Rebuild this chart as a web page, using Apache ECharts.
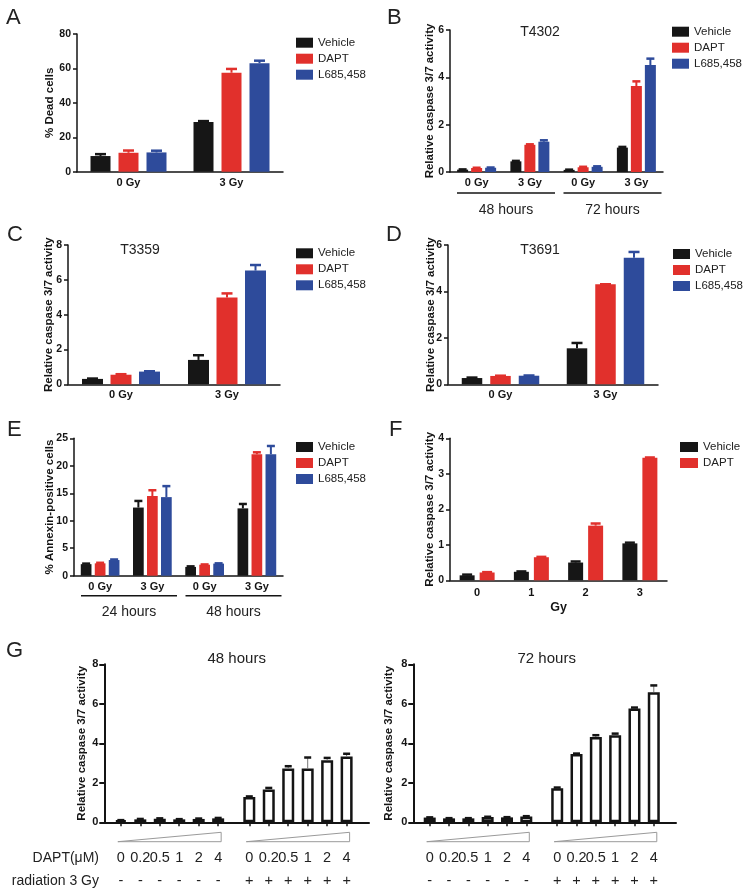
<!DOCTYPE html>
<html><head><meta charset="utf-8">
<script src="https://cdn.jsdelivr.net/npm/echarts@6/dist/echarts.min.js"></script>
<style>html,body{margin:0;padding:0;background:#fff}#c{width:754px;height:895px}</style>
</head><body><div id="c"></div>
<script>
const FONT = '"Liberation Sans", Arial, Helvetica, sans-serif';
const INK = '#141414';
const seriesColors = {'Vehicle': '#161616', 'DAPT': '#E1302C', 'L685,458': '#2E4B9B'};

// ---------- Panel A
const aCategories = ['0 Gy', '3 Gy'];
const aYTicks = [0, 20, 40, 60, 80];
const aVehicle = [9.1, 28.9];
const aVehicleErr = [1.1, 0.5];
const aDAPT = [11.0, 57.5];
const aDAPTErr = [1.3, 2.2];
const aL685 = [11.2, 63.0];
const aL685Err = [1.0, 1.5];

// ---------- Panel B (T4302)
const bCategories = ['0 Gy', '3 Gy', '0 Gy', '3 Gy'];
const bGroupLabels = ['48 hours', '72 hours'];
const bYTicks = [0, 2, 4, 6];
const bVehicle = [0.10, 0.45, 0.09, 1.03];
const bVehicleErr = [0.01, 0.02, 0.01, 0.03];
const bDAPT = [0.17, 1.15, 0.20, 3.63];
const bDAPTErr = [0.01, 0.02, 0.02, 0.20];
const bL685 = [0.18, 1.28, 0.22, 4.52];
const bL685Err = [0.01, 0.06, 0.02, 0.27];

// ---------- Panel C (T3359)
const cCategories = ['0 Gy', '3 Gy'];
const cYTicks = [0, 2, 4, 6, 8];
const cVehicle = [0.31, 1.40];
const cVehicleErr = [0.02, 0.27];
const cDAPT = [0.55, 4.98];
const cDAPTErr = [0.03, 0.24];
const cL685 = [0.73, 6.53];
const cL685Err = [0.02, 0.32];

// ---------- Panel D (T3691)
const dCategories = ['0 Gy', '3 Gy'];
const dYTicks = [0, 2, 4, 6];
const dVehicle = [0.27, 1.55];
const dVehicleErr = [0.02, 0.23];
const dDAPT = [0.36, 4.31];
const dDAPTErr = [0.01, 0.0];
const dL685 = [0.37, 5.45];
const dL685Err = [0.01, 0.25];

// ---------- Panel E
const eCategories = ['0 Gy', '3 Gy', '0 Gy', '3 Gy'];
const eGroupLabels = ['24 hours', '48 hours'];
const eYTicks = [0, 5, 10, 15, 20, 25];
const eVehicle = [2.1, 12.4, 1.6, 12.25];
const eVehicleErr = [0.1, 1.2, 0.1, 0.8];
const eDAPT = [2.25, 14.5, 2.0, 22.1];
const eDAPTErr = [0.1, 1.05, 0.05, 0.35];
const eL685 = [2.85, 14.3, 2.2, 22.1];
const eL685Err = [0.1, 2.0, 0.05, 1.5];

// ---------- Panel F
const fCategories = ['0', '1', '2', '3'];
const fYTicks = [0, 1, 2, 3, 4];
const fVehicle = [0.14, 0.24, 0.50, 1.04];
const fVehicleErr = [0.02, 0.01, 0.03, 0.02];
const fDAPT = [0.22, 0.65, 1.54, 3.45];
const fDAPTErr = [0.01, 0.01, 0.06, 0.01];

// ---------- Panel G
const gDoses = ['0', '0.2', '0.5', '1', '2', '4'];
const gRadiationSigns = ['-', '+'];
const gYTicks = [0, 2, 4, 6, 8];
const g48NoRad = [0.10, 0.15, 0.18, 0.15, 0.17, 0.20];
const g48NoRadErr = [0.01, 0.02, 0.02, 0.01, 0.02, 0.02];
const g48Rad = [1.28, 1.66, 2.72, 2.72, 3.14, 3.33];
const g48RadErr = [0.03, 0.08, 0.12, 0.56, 0.12, 0.14];
const g72NoRad = [0.24, 0.20, 0.20, 0.27, 0.25, 0.30];
const g72NoRadErr = [0.01, 0.01, 0.01, 0.01, 0.01, 0.01];
const g72Rad = [1.73, 3.46, 4.32, 4.41, 5.76, 6.59];
const g72RadErr = [0.03, 0.02, 0.09, 0.08, 0.05, 0.34];

// ---------- helpers
function errorBars(axisIdx, data, offset, stemColor, stemWidth, capWidth, capLineWidth, capColor) {
  return {
    type: 'custom', xAxisIndex: axisIdx, yAxisIndex: axisIdx, silent: true, animation: false, z: 3,
    data: data, encode: {x: 0, y: [1, 2]},
    renderItem: function (params, api) {
      const base = api.coord([api.value(0), api.value(1)]);
      const top = api.coord([api.value(0), api.value(2)]);
      const cx = base[0] + offset;
      return {type: 'group', children: [
        {type: 'line', shape: {x1: cx, y1: base[1], x2: cx, y2: top[1]}, style: {stroke: stemColor, lineWidth: stemWidth}},
        {type: 'line', shape: {x1: cx - capWidth / 2, y1: top[1], x2: cx + capWidth / 2, y2: top[1]}, style: {stroke: capColor, lineWidth: capLineWidth}}
      ]};
    }
  };
}

const panelDefs = [
  {cats: aCategories, yTicks: aYTicks, yName: '% Dead cells',
   series: [['Vehicle', aVehicle, aVehicleErr], ['DAPT', aDAPT, aDAPTErr], ['L685,458', aL685, aL685Err]],
   grid: {left: 77, top: 34, width: 206, height: 137.7}, nameGap: 21, bw: 20, gap: 8, cap: 11,
   legend: {left: 296, top: 35.7, itemWidth: 17}},
  {cats: bCategories, yTicks: bYTicks, yName: 'Relative caspase 3/7 activity',
   series: [['Vehicle', bVehicle, bVehicleErr], ['DAPT', bDAPT, bDAPTErr], ['L685,458', bL685, bL685Err]],
   grid: {left: 450, top: 30, width: 213, height: 142}, nameGap: 14, bw: 11, gap: 3, cap: 8,
   legend: {left: 672, top: 24.7, itemWidth: 17}, groups: bGroupLabels, lineOff: 21, textOff: 17},
  {cats: cCategories, yTicks: cYTicks, yName: 'Relative caspase 3/7 activity',
   series: [['Vehicle', cVehicle, cVehicleErr], ['DAPT', cDAPT, cDAPTErr], ['L685,458', cL685, cL685Err]],
   grid: {left: 68, top: 245, width: 212, height: 139.3}, nameGap: 13, bw: 21, gap: 7.5, cap: 11,
   legend: {left: 296, top: 246.3, itemWidth: 17}},
  {cats: dCategories, yTicks: dYTicks, yName: 'Relative caspase 3/7 activity',
   series: [['Vehicle', dVehicle, dVehicleErr], ['DAPT', dDAPT, dDAPTErr], ['L685,458', dL685, dL685Err]],
   grid: {left: 448, top: 245, width: 210, height: 139.3}, nameGap: 11, bw: 20.5, gap: 8, cap: 11,
   legend: {left: 673, top: 247, itemWidth: 17}},
  {cats: eCategories, yTicks: eYTicks, yName: '% Annexin-positive cells',
   series: [['Vehicle', eVehicle, eVehicleErr], ['DAPT', eDAPT, eDAPTErr], ['L685,458', eL685, eL685Err]],
   grid: {left: 74, top: 438.3, width: 209, height: 137.4}, nameGap: 18, bw: 10.7, gap: 3.3, cap: 8,
   legend: {left: 296, top: 440, itemWidth: 17}, groups: eGroupLabels, lineOff: 20, textOff: 16},
  {cats: fCategories, yTicks: fYTicks, yName: 'Relative caspase 3/7 activity', xName: 'Gy',
   series: [['Vehicle', fVehicle, fVehicleErr], ['DAPT', fDAPT, fDAPTErr]],
   grid: {left: 450, top: 438.3, width: 217, height: 142}, nameGap: 14, bw: 15, gap: 5, cap: 10,
   legend: {left: 680, top: 440, itemWidth: 18}, xMargin: 7}
];

const grids = [], xAxes = [], yAxes = [], series = [], legends = [];

function yAxisFor(k, ticks, name, nameGap, lw, fs) {
  return {
    gridIndex: k, type: 'value', min: ticks[0], max: ticks[ticks.length - 1], interval: ticks[1] - ticks[0],
    axisLine: {show: true, lineStyle: {color: INK, width: lw}},
    axisTick: {show: true, inside: false, length: 4, lineStyle: {color: INK, width: lw}},
    splitLine: {show: false},
    axisLabel: {color: INK, fontWeight: 'bold', fontSize: fs, fontFamily: FONT, margin: 6},
    name: name, nameLocation: 'middle', nameRotate: 90, nameGap: nameGap, nameMoveOverlap: false,
    nameTextStyle: {color: INK, fontWeight: 'bold', fontSize: 11.5, fontFamily: FONT}
  };
}

panelDefs.forEach(function (p, k) {
  grids.push(Object.assign({outerBoundsMode: 'none'}, p.grid));
  xAxes.push({
    gridIndex: k, type: 'category', data: p.cats,
    axisLine: {show: true, lineStyle: {color: INK, width: 1.5}}, axisTick: {show: false},
    axisLabel: {color: INK, fontWeight: 'bold', fontSize: 11, fontFamily: FONT, margin: p.xMargin || 5.5, interval: 0},
    splitLine: {show: false},
    name: p.xName || '', nameLocation: 'middle', nameGap: 21, nameMoveOverlap: false,
    nameTextStyle: {color: INK, fontWeight: 'bold', fontSize: 12.5, fontFamily: FONT}
  });
  yAxes.push(yAxisFor(k, p.yTicks, p.yName, p.nameGap, 1.5, 10.5));
  const n = p.series.length;
  p.series.forEach(function (s, i) {
    const name = s[0], vals = s[1], errs = s[2];
    const color = seriesColors[name];
    series.push({type: 'bar', name: name, xAxisIndex: k, yAxisIndex: k, data: vals, barWidth: p.bw,
      barGap: (p.gap / p.bw * 100) + '%', itemStyle: {color: color}, silent: true, animation: false});
    const off = (i - (n - 1) / 2) * (p.bw + p.gap);
    series.push(errorBars(k, vals.map(function (v, j) { return [j, v, v + errs[j]]; }), off, color, 2, p.cap, 2.5, color));
  });
  legends.push({
    orient: 'vertical', left: p.legend.left, top: p.legend.top, padding: 0, itemGap: 2,
    itemWidth: p.legend.itemWidth, itemHeight: 10, icon: 'rect', selectedMode: false,
    data: p.series.map(function (s) { return s[0]; }),
    textStyle: {fontSize: 11.5, lineHeight: 14, color: '#222', fontFamily: FONT}
  });
  if (p.groups) {
    const labels = p.groups;
    series.push({
      type: 'custom', xAxisIndex: k, yAxisIndex: k, silent: true, animation: false,
      data: labels.map(function (l, g) { return [g * 2, g * 2 + 1, 0]; }), encode: {x: [0, 1], y: 2},
      renderItem: function (params, api) {
        const p0 = api.coord([api.value(0), 0]), p1 = api.coord([api.value(1), 0]);
        const band = api.size([1, 0])[0];
        const y = p0[1] + p.lineOff;
        const x0 = p0[0] - band / 2 + 7, x1 = p1[0] + band / 2 - 1.5;
        return {type: 'group', children: [
          {type: 'line', shape: {x1: x0, y1: y, x2: x1, y2: y}, style: {stroke: INK, lineWidth: 1.5}},
          {type: 'text', style: {text: labels[params.dataIndex], x: (x0 + x1) / 2, y: y + p.textOff,
            align: 'center', verticalAlign: 'middle', textAlign: 'center', textVerticalAlign: 'middle',
            font: '14px ' + FONT, fill: '#222'}}
        ]};
      }
    });
  }
});

// ---------- Panel G (two grids, value x-axis with a gap between dose groups)
const gGroupGap = 0.6;
const gPositions = gDoses.map(function (d, i) { return i + 1; })
  .concat(gDoses.map(function (d, i) { return i + 1 + gDoses.length + gGroupGap; }));
const gLabelFor = function (v) {
  const i = gPositions.findIndex(function (p) { return Math.abs(p - v) < 1e-6; });
  if (i < 0) return '';
  return gDoses[i % gDoses.length] + '\n' + gRadiationSigns[Math.floor(i / gDoses.length)];
};
const gDefs = [
  {grid: {left: 104.3, top: 664.3, width: 264.7, height: 158}, noRad: g48NoRad, noRadErr: g48NoRadErr, rad: g48Rad, radErr: g48RadErr, nameGap: 16},
  {grid: {left: 413.3, top: 664.3, width: 262.7, height: 158}, noRad: g72NoRad, noRadErr: g72NoRadErr, rad: g72Rad, radErr: g72RadErr, nameGap: 18}
];
gDefs.forEach(function (g, gi) {
  const k = panelDefs.length + gi;
  grids.push(Object.assign({outerBoundsMode: 'none'}, g.grid));
  xAxes.push({
    gridIndex: k, type: 'value', min: 0.15, max: 13.75,
    axisLine: {show: true, onZero: false, lineStyle: {color: INK, width: 2}},
    axisTick: {show: true, customValues: gPositions, length: 4, lineStyle: {color: INK, width: 1.5}},
    axisLabel: {show: true, customValues: gPositions, formatter: gLabelFor, color: '#222', fontSize: 14.5,
      lineHeight: 23.3, fontFamily: FONT, margin: 23.7, hideOverlap: false},
    splitLine: {show: false}
  });
  const ya = yAxisFor(k, gYTicks, 'Relative caspase 3/7 activity', g.nameGap, 2, 11);
  ya.axisTick.length = 5;
  yAxes.push(ya);
  const vals = g.noRad.concat(g.rad), errs = g.noRadErr.concat(g.radErr);
  series.push({type: 'bar', name: 'G' + gi, xAxisIndex: k, yAxisIndex: k, barWidth: 12, silent: true, animation: false,
    data: vals.map(function (v, i) { return [gPositions[i], v]; }),
    itemStyle: {color: '#ffffff', borderColor: INK, borderWidth: 2.5}});
  series.push(errorBars(k, vals.map(function (v, i) { return [gPositions[i], v, v + errs[i]]; }), 0, '#777', 1, 7, 2.5, INK));
  // concentration wedges under each dose group
  series.push({
    type: 'custom', xAxisIndex: k, yAxisIndex: k, silent: true, animation: false,
    data: gRadiationSigns.map(function (s, r) { return [gPositions[r * gDoses.length], gPositions[r * gDoses.length + gDoses.length - 1], 0]; }),
    encode: {x: [0, 1], y: 2},
    renderItem: function (params, api) {
      const p0 = api.coord([api.value(0), 0]), p1 = api.coord([api.value(1), 0]);
      const x0 = p0[0] - 3, x1 = p1[0] + 3, yb = p0[1] + 19.4, yt = p0[1] + 10;
      return {type: 'polygon', shape: {points: [[x0, yb], [x1, yt], [x1, yb]]},
        style: {fill: 'none', stroke: '#9a9a9a', lineWidth: 1}};
    }
  });
});

function txt(text, x, y, size, align, weight) {
  return {type: 'text', silent: true, x: 0, y: 0, style: {text: text, x: x, y: y, font: (weight || 'normal') + ' ' + size + 'px ' + FONT,
    fill: '#222', align: align || 'left', verticalAlign: 'middle', textAlign: align || 'left', textVerticalAlign: 'middle'}};
}
const graphics = [
  txt('A', 6, 18, 22), txt('B', 387, 18, 22), txt('C', 7, 234.5, 22), txt('D', 386, 234.5, 22),
  txt('E', 7, 430, 22), txt('F', 389, 430, 22), txt('G', 6, 651, 22),
  txt('T4302', 540, 31.7, 14, 'center'), txt('T3359', 140, 250, 14, 'center'), txt('T3691', 540, 250, 14, 'center'),
  txt('48 hours', 236.7, 659.3, 15, 'center'), txt('72 hours', 546.7, 659.3, 15, 'center'),
  txt('DAPT(\u03bcM)', 99, 857.7, 14, 'right'), txt('radiation 3 Gy', 99, 881, 14, 'right')
];

const chart = echarts.init(document.getElementById('c'), null, {renderer: 'canvas'});
chart.setOption({
  animation: false,
  backgroundColor: '#ffffff',
  textStyle: {fontFamily: FONT},
  grid: grids, xAxis: xAxes, yAxis: yAxes, series: series, legend: legends,
  graphic: {elements: graphics}
});
</script></body></html>
